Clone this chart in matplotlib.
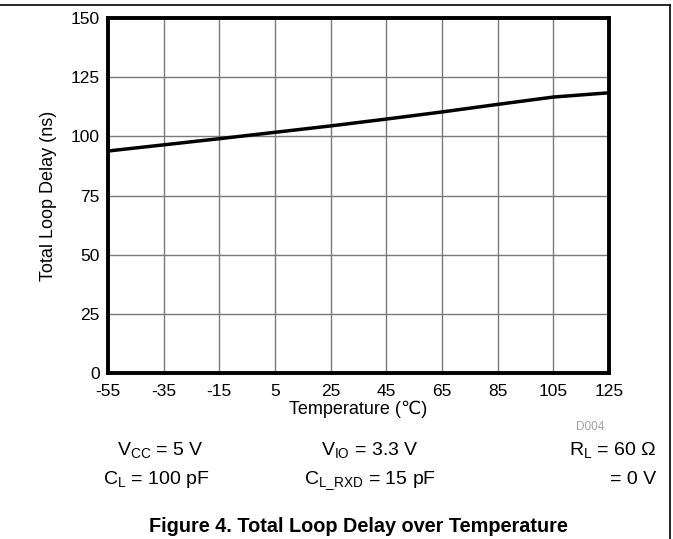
import numpy as np
import matplotlib
matplotlib.use('Agg')
import matplotlib.pyplot as plt
from matplotlib.lines import Line2D

plt.rcParams['font.family'] = ['Liberation Sans', 'DejaVu Sans']
plt.rcParams['mathtext.fontset'] = 'custom'
plt.rcParams['mathtext.rm'] = 'Liberation Sans'
plt.rcParams['mathtext.it'] = 'Liberation Sans'
plt.rcParams['axes.unicode_minus'] = False

# data
temperature = [-55, -35, -15, 5, 25, 45, 65, 85, 105, 125]
loop_delay = [93.8, 96.4, 99.0, 101.7, 104.4, 107.3, 110.3, 113.5, 116.6, 118.4]
x_ticks = [-55, -35, -15, 5, 25, 45, 65, 85, 105, 125]
y_ticks = [0, 25, 50, 75, 100, 125, 150]

W, H = 673, 539
fig = plt.figure(figsize=(W / 100, H / 100), dpi=100)
ax = fig.add_axes([108 / W, 1 - 373 / H, (609 - 108) / W, (373 - 18) / H])

ax.plot(temperature, loop_delay, color='black', linewidth=2.5, solid_capstyle='butt')
ax.set_xlim(-55, 125)
ax.set_ylim(0, 150)
ax.set_xticks(x_ticks)
ax.set_yticks(y_ticks)
ax.grid(True, color='#7a7a7a', linewidth=1.0)
ax.set_axisbelow(True)
for s in ax.spines.values():
    s.set_linewidth(2.8)
    s.set_color('black')
ax.tick_params(axis='x', length=0, labelsize=12.5, pad=8)
ax.tick_params(axis='y', length=0, labelsize=12.5, pad=6)
ax.set_xlabel('Temperature (\u2103)', fontsize=13, labelpad=1)
ax.set_ylabel('Total Loop Delay (ns)', fontsize=13, labelpad=10)

fig.text(604 / W, 1 - 427 / H, 'D004', fontsize=8.5, color='#a0a0a0', ha='right', va='center')

fs = 14
row1 = 1 - 455 / H
row2 = 1 - 484 / H
fig.text(160 / W, row1, r'V$_{\mathrm{CC}}$ = 5 V', fontsize=fs, ha='center', va='baseline')
fig.text(370 / W, row1, r'V$_{\mathrm{IO}}$ = 3.3 V', fontsize=fs, ha='center', va='baseline')
fig.text(656 / W, row1, 'R$_{\\mathrm{L}}$ = 60 \u03a9', fontsize=fs, ha='right', va='baseline')
fig.text(156 / W, row2, r'C$_{\mathrm{L}}$ = 100 pF', fontsize=fs, ha='center', va='baseline')
fig.text(370 / W, row2, r'C$_{\mathrm{L\_RXD}}$ = 15 pF', fontsize=fs, ha='center', va='baseline')
fig.text(656 / W, row2, '= 0 V', fontsize=fs, ha='right', va='baseline')

fig.text(358 / W, 1 - 532 / H, 'Figure 4. Total Loop Delay over Temperature',
         fontsize=14.3, fontweight='bold', ha='center', va='baseline')

# page frame lines
fig.add_artist(Line2D([0, 670 / W], [1 - 4.5 / H, 1 - 4.5 / H], color='black', linewidth=1.2,
                      transform=fig.transFigure))
fig.add_artist(Line2D([670 / W, 670 / W], [0, 1 - 4.5 / H], color='black', linewidth=1.2,
                      transform=fig.transFigure))

fig.savefig('out.png', dpi=100)
